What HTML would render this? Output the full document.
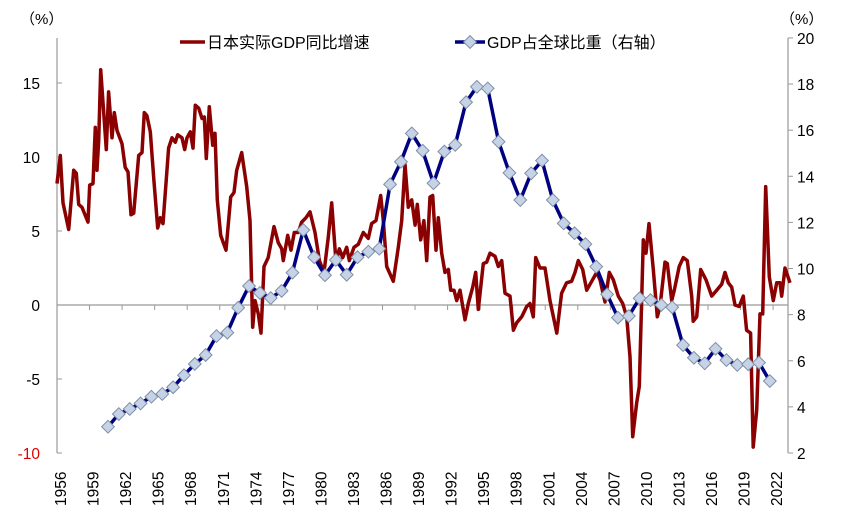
<!DOCTYPE html>
<html><head><meta charset="utf-8"><style>
body{margin:0;background:#fff;}
svg{display:block;font-family:"Liberation Sans","Noto Sans CJK SC",sans-serif;}
</style></head><body>
<svg id="chart" width="864" height="513" viewBox="0 0 864 513" xmlns="http://www.w3.org/2000/svg">
<g id="axes"></g>
<g id="series"></g>
<g id="legend">
  <line x1="180" y1="42" x2="205" y2="42" stroke="#8b0000" stroke-width="3.5"/>
  <text x="207" y="48" font-size="16" fill="#000">日本实际GDP同比增速</text>
  <line x1="455" y1="42" x2="485" y2="42" stroke="#000080" stroke-width="3.5"/>
  <rect x="465.5" y="37.5" width="9" height="9" transform="rotate(45 470 42)" fill="#c6d3e6" stroke="#7f8fa8" stroke-width="1"/>
  <text x="487" y="48" font-size="16" fill="#000">GDP占全球比重（右轴）</text>
</g>
<text x="20" y="24" font-size="15">（%）</text>
<text x="780" y="24" font-size="15">（%）</text>
</svg>
<script>
const leftTicks = [-10, -5, 0, 5, 10, 15];
const rightTicks = [2, 4, 6, 8, 10, 12, 14, 16, 18, 20];
const yearLabels = [1956,1959,1962,1965,1968,1971,1974,1977,1980,1983,1986,1989,1992,1995,1998,2001,2004,2007,2010,2013,2016,2019,2022];
const shareYears = [1960,1961,1962,1963,1964,1965,1966,1967,1968,1969,1970,1971,1972,1973,1974,1975,1976,1977,1978,1979,1980,1981,1982,1983,1984,1985,1986,1987,1988,1989,1990,1991,1992,1993,1994,1995,1996,1997,1998,1999,2000,2001,2002,2003,2004,2005,2006,2007,2008,2009,2010,2011,2012,2013,2014,2015,2016,2017,2018,2019,2020,2021];
const shareValues = [3.14,3.69,3.91,4.15,4.44,4.56,4.85,5.37,5.86,6.25,7.07,7.22,8.30,9.24,8.94,8.72,9.03,9.82,11.67,10.49,9.71,10.37,9.73,10.49,10.73,10.86,13.65,14.63,15.86,15.11,13.70,15.07,15.36,17.21,17.88,17.81,15.50,14.15,12.97,14.13,14.68,12.97,11.96,11.53,11.06,10.08,8.88,7.87,7.94,8.71,8.63,8.42,8.32,6.68,6.13,5.89,6.52,6.03,5.82,5.85,5.92,5.12];
const growthDates = [1956.00,1956.30,1956.55,1957.08,1957.54,1957.78,1958.00,1958.30,1958.86,1959.01,1959.32,1959.53,1959.69,1959.84,1960.03,1960.54,1960.76,1961.07,1961.28,1961.53,1961.99,1962.29,1962.54,1962.82,1963.07,1963.53,1963.83,1964.05,1964.29,1964.60,1964.91,1965.28,1965.52,1965.77,1966.29,1966.60,1966.90,1967.12,1967.52,1967.77,1967.98,1968.29,1968.53,1968.75,1969.06,1969.36,1969.58,1969.76,1970.04,1970.35,1970.56,1970.77,1971.09,1971.58,1972.01,1972.31,1972.56,1973.02,1973.48,1973.79,1974.04,1974.25,1974.55,1974.80,1975.08,1975.47,1976.00,1976.40,1976.71,1976.86,1977.26,1977.57,1977.87,1978.24,1978.55,1978.95,1979.32,1979.78,1980.18,1980.61,1981.00,1981.32,1981.71,1982.02,1982.33,1982.70,1982.94,1983.37,1983.77,1984.23,1984.69,1985.00,1985.40,1985.83,1986.07,1986.39,1987.00,1987.46,1987.77,1988.07,1988.38,1988.69,1989.00,1989.21,1989.52,1989.82,1990.07,1990.38,1990.63,1990.93,1991.14,1991.46,1991.76,1992.06,1992.29,1992.59,1992.84,1993.14,1993.60,1993.91,1994.31,1994.59,1994.83,1995.29,1995.60,1995.91,1996.37,1996.67,1996.99,1997.29,1997.75,1998.06,1998.37,1998.83,1999.29,1999.59,1999.90,2000.12,2000.52,2000.98,2001.44,2002.06,2002.51,2002.97,2003.43,2003.74,2004.05,2004.45,2004.82,2005.28,2005.74,2006.05,2006.51,2006.90,2007.27,2007.73,2008.14,2008.51,2008.81,2009.06,2009.43,2009.67,2010.04,2010.29,2010.56,2010.96,2011.33,2011.58,2012.04,2012.25,2012.65,2012.89,2013.35,2013.72,2014.09,2014.50,2014.64,2014.96,2015.33,2015.82,2016.34,2016.80,2017.26,2017.57,2017.87,2018.18,2018.49,2018.88,2019.25,2019.56,2019.93,2020.17,2020.49,2020.79,2021.04,2021.32,2021.65,2022.02,2022.33,2022.64,2022.79,2023.10,2023.56];
const growthValues = [8.2,10.1,6.9,5.1,9.1,8.9,6.8,6.6,5.6,8.1,8.2,12.0,9.1,11.1,15.9,10.5,14.4,11.3,13.0,11.8,10.9,9.3,9.0,6.1,6.2,10.1,10.3,13.0,12.8,11.7,8.6,5.2,5.9,5.5,10.6,11.3,11.0,11.5,11.3,10.5,11.3,11.7,10.6,13.5,13.3,12.6,12.7,9.9,13.4,10.8,11.6,7.1,4.7,3.7,7.3,7.6,9.1,10.3,8.0,5.7,-1.5,0.3,-0.6,-1.9,2.6,3.2,5.3,4.2,3.8,3.0,4.7,3.7,4.9,4.9,5.6,5.9,6.3,4.9,3.0,2.2,4.6,6.9,2.9,3.8,3.2,3.9,3.0,3.9,4.1,4.9,4.5,5.5,5.7,7.4,5.7,2.6,1.6,3.9,5.7,9.5,6.6,7.1,5.4,6.8,4.4,5.7,3.0,7.3,7.4,3.7,5.9,3.5,2.2,2.4,1.0,1.0,0.3,1.0,-1.0,0.1,1.2,2.2,-0.3,2.8,2.9,3.5,3.3,2.6,3.0,0.8,0.6,-1.7,-1.2,-0.8,-0.1,0.1,-0.8,3.2,2.5,2.5,0.3,-1.9,0.8,1.5,1.6,2.2,3.0,2.4,1.0,1.6,2.2,1.7,0.2,2.2,1.7,0.6,0.1,-0.8,-3.5,-8.9,-6.6,-5.5,4.4,3.5,5.5,2.4,-0.8,-0.1,2.9,2.8,0.3,1.0,2.6,3.2,3.0,0.6,-1.1,-0.8,2.4,1.7,0.6,1.0,1.4,2.2,1.5,1.2,0.0,-0.1,0.6,-1.7,-1.9,-9.6,-7.1,-0.6,-0.6,8.0,1.9,0.3,1.5,1.5,0.6,2.5,1.5];

const NS = 'http://www.w3.org/2000/svg';
const X0 = 57, X1 = 788, PX_PER_YEAR = 10.85;
const xScale = t => X0 + (t - 1956) * PX_PER_YEAR;
const yLeft = v => 305 - v * 14.8;
const yRight = v => 453 - (v - 2) * 23.06;
function mk(tag, attrs, parent){const e=document.createElementNS(NS,tag);for(const k in attrs)e.setAttribute(k,attrs[k]);parent.appendChild(e);return e;}
const axes = document.getElementById('axes');
const series = document.getElementById('series');

let e = mk('line',{x1:X0,y1:38,x2:X0,y2:453,stroke:'#999','stroke-width':1.2},axes);


e = mk('line',{x1:X1,y1:38,x2:X1,y2:453,stroke:'#999','stroke-width':1.2},axes);


e = mk('line',{x1:X0,y1:yLeft(0),x2:X1,y2:yLeft(0),stroke:'#999','stroke-width':1.2},axes);



leftTicks.forEach(v=>{
  const y=yLeft(v);
  const t=mk('line',{x1:X0,y1:y,x2:X0+5,y2:y,stroke:'#999'},axes);
  
  
  const l=mk('text',{x:40,y:y+6,'font-size':15.5,'text-anchor':'end',fill:v===-10?'#e00000':'#000'},axes);
  l.textContent=v;
  
  
});
rightTicks.forEach(v=>{
  const y=yRight(v);
  const t=mk('line',{x1:X1,y1:y,x2:X1+5,y2:y,stroke:'#999'},axes);
  
  
  const l=mk('text',{x:797,y:y+6,'font-size':15.5,fill:'#000'},axes);
  l.textContent=v;
  
  
});
yearLabels.forEach(yr=>{
  const x=xScale(yr);
  const t=mk('line',{x1:x,y1:yLeft(0),x2:x,y2:yLeft(0)+5,stroke:'#999'},axes);
  
  
  const l=mk('text',{x:0,y:0,'font-size':15.5,fill:'#000',transform:`translate(${x+9},506) rotate(-90)`},axes);
  l.textContent=yr;
  
  
});

const gPts = growthDates.map((d,i)=>xScale(d).toFixed(1)+','+yLeft(growthValues[i]).toFixed(1)).join(' ');
const gLine = mk('polyline',{points:gPts,fill:'none',stroke:'#8b0000','stroke-width':3.5,'stroke-linejoin':'round'},series);



const sPts = shareYears.map((yr,i)=>xScale(yr+0.7).toFixed(1)+','+yRight(shareValues[i]).toFixed(1)).join(' ');
const sLine = mk('polyline',{points:sPts,fill:'none',stroke:'#000080','stroke-width':3.5,'stroke-linejoin':'round'},series);


shareYears.forEach((yr,i)=>{
  const cx=xScale(yr+0.7), cy=yRight(shareValues[i]);
  const m=mk('rect',{x:cx-4.5,y:cy-4.5,width:9,height:9,transform:`rotate(45 ${cx} ${cy})`,fill:'#c6d3e6',stroke:'#7f8fa8','stroke-width':1},series);
  
  
});
</script>
</body></html>
